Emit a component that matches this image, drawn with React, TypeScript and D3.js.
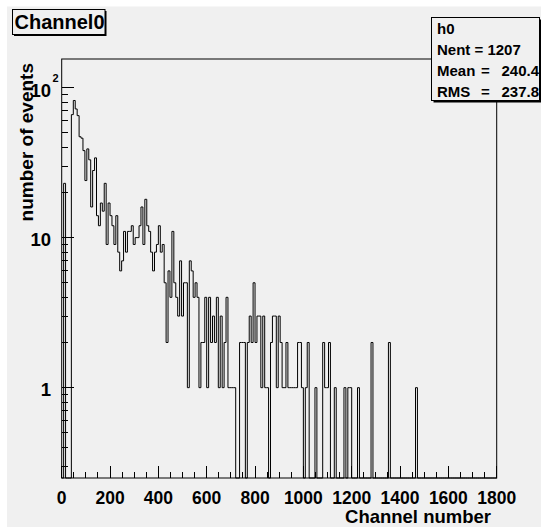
import React from "react";
import * as d3 from "d3";

// Histogram h0: 225 bins of 8 channels over 0..1800
const xMin = 0;
const xMax = 1800;
const binWidth = 8;
const counts: number[] = [
  0, 23, 0, 0, 0, 66, 82, 72, 65, 47,
  46, 38, 24, 39, 33, 16, 28, 34, 14, 12,
  17, 15, 23, 9, 17, 14, 12, 9, 14, 8,
  6, 7, 11, 8, 11, 11, 12, 9, 10, 10,
  12, 16, 9, 18, 12, 11, 8, 6, 8, 9,
  12, 8, 9, 5, 2, 6, 4, 11, 5, 4,
  3, 7, 3, 5, 5, 1, 7, 6, 4, 5,
  4, 1, 2, 2, 4, 1, 4, 2, 3, 2,
  4, 1, 3, 1, 2, 4, 1, 1, 1, 1,
  0, 0, 2, 2, 2, 0, 2, 3, 2, 5,
  2, 3, 3, 1, 3, 1, 1, 0, 2, 3,
  3, 1, 3, 2, 1, 1, 2, 1, 1, 1,
  1, 1, 2, 2, 1, 0, 1, 2, 0, 0,
  0, 1, 0, 0, 0, 2, 1, 1, 2, 0,
  0, 1, 0, 0, 0, 0, 1, 0, 1, 1,
  0, 0, 0, 1, 0, 0, 0, 0, 0, 0,
  2, 0, 0, 0, 0, 0, 0, 0, 0, 2,
  0, 0, 0, 0, 0, 0, 0, 0, 0, 0,
  0, 0, 0, 1, 0, 0, 0, 0, 0, 0,
  0, 0, 0, 0, 0, 0, 0, 0, 0, 0,
  0, 0, 0, 0, 0, 0, 0, 0, 0, 0,
  0, 0, 0, 0, 0, 0, 0, 0, 0, 0,
  0, 0, 0, 0, 0,
];

const xTickLabels = [0, 200, 400, 600, 800, 1000, 1200, 1400, 1600, 1800];
const yDecades = [1, 10, 100];
const titleText = "Channel0";
const histName = "h0";
const statNames = ["Mean", "RMS"];
const statValues = ["240.4", "237.8"];
const entriesText = "Nent = 1207";
const xTitle = "Channel number";
const yTitle = "number of events";

const W = 541;
const H = 527;
const frame = { left: 61.7, right: 496.7, top: 59, bottom: 478 };
const font = "'Liberation Sans', Arial, Helvetica, sans-serif";
const bg = "#f0f0f0";

export default function App() {
  const x = d3.scaleLinear().domain([xMin, xMax]).range([frame.left, frame.right]);
  const y = d3.scaleLog().domain([0.25, 155]).range([frame.bottom, frame.top]);

  // step outline of the histogram; empty bins fall to the bottom of the log axis
  const pts: [number, number][] = [[x(xMin), frame.bottom]];
  counts.forEach((c, i) => {
    const lo = xMin + i * binWidth;
    const hi = lo + binWidth;
    const yy = c > 0 ? y(c) : frame.bottom;
    pts.push([x(lo), yy], [x(hi), yy]);
  });
  pts.push([x(xMax), frame.bottom]);
  const histPath = d3.line()(pts) || "";

  const xMinor = d3.range(xMin, xMax + 1, 50);
  const yMinor: number[] = [];
  [0.1, 1, 10, 100].forEach((d) => {
    for (let k = 2; k <= 9; k++) {
      const v = k * d;
      if (v >= 0.25 && v <= 155) yMinor.push(v);
    }
  });

  return (
    <div style={{ position: "absolute", left: 0, top: 0 }}>
      <svg width={W} height={H} style={{ display: "block" }} fontFamily={font}>
        <rect x={0} y={0} width={W} height={H} fill="#ffffff" />
        <rect x={7} y={6.5} width={W - 7} height={H - 6.5} fill={bg} />

        {/* frame */}
        <rect
          x={frame.left}
          y={frame.top}
          width={frame.right - frame.left}
          height={frame.bottom - frame.top}
          fill="none"
          stroke="#000"
          strokeWidth={1}
        />

        {/* x ticks */}
        <g stroke="#000" strokeWidth={1} shapeRendering="crispEdges">
          {xMinor.map((v) => (
            <line
              key={"xt" + v}
              x1={x(v)}
              x2={x(v)}
              y1={frame.bottom}
              y2={frame.bottom - (v % 200 === 0 ? 12.5 : 6.3)}
            />
          ))}
          {yDecades.map((v) => (
            <line key={"ym" + v} x1={frame.left} x2={frame.left + 12.5} y1={y(v)} y2={y(v)} />
          ))}
          {yMinor.map((v) => (
            <line key={"yn" + v} x1={frame.left} x2={frame.left + 6.3} y1={y(v)} y2={y(v)} />
          ))}
        </g>

        {/* histogram */}
        <path d={histPath} fill="none" stroke="#000" strokeWidth={1} />

        {/* x tick labels */}
        <g fontSize={17.5} fontWeight="bold" textAnchor="middle" fill="#000">
          {xTickLabels.map((v) => (
            <text key={"xl" + v} x={x(v)} y={504}>
              {v}
            </text>
          ))}
        </g>

        {/* y tick labels */}
        <g fontSize={18.5} fontWeight="bold" fill="#000">
          <text x={51} y={y(1) + 8} textAnchor="end">1</text>
          <text x={51} y={y(10) + 8} textAnchor="end">10</text>
          <text x={51} y={y(100) + 9} textAnchor="end">10</text>
          <text x={52.5} y={y(100) - 6} fontSize={11}>2</text>
        </g>

        {/* axis titles */}
        <text
          x={491}
          y={523}
          textAnchor="end"
          fontSize={18.5}
          fontWeight="bold"
          fill="#000"
        >
          {xTitle}
        </text>
        <text
          transform="translate(33,63) rotate(-90)"
          textAnchor="end"
          fontSize={19}
          fontWeight="bold"
          fill="#000"
        >
          {yTitle}
        </text>

        {/* title box */}
        <rect x={14} y={11} width={92.5} height={25} fill="#000" />
        <rect x={12.5} y={9.5} width={92.5} height={25} fill={bg} stroke="#000" strokeWidth={1} />
        <text x={14.5} y={29.3} fontSize={20} fontWeight="bold" fill="#000">
          {titleText}
        </text>

        {/* statistics box */}
        <rect x={433.5} y={19.5} width={108} height={83} fill="#000" />
        <rect x={431.5} y={17.5} width={108} height={83} fill={bg} stroke="#000" strokeWidth={1} />
        <g fontSize={15} fontWeight="bold" fill="#000">
          <text x={437} y={34}>{histName}</text>
          <text x={437} y={55}>{entriesText}</text>
          {statNames.map((n, i) => (
            <g key={n}>
              <text x={437} y={76 + i * 20.8}>{n}</text>
              <text x={481} y={76 + i * 20.8}>=</text>
              <text x={539} y={76 + i * 20.8} textAnchor="end">{statValues[i]}</text>
            </g>
          ))}
        </g>
      </svg>
    </div>
  );
}
